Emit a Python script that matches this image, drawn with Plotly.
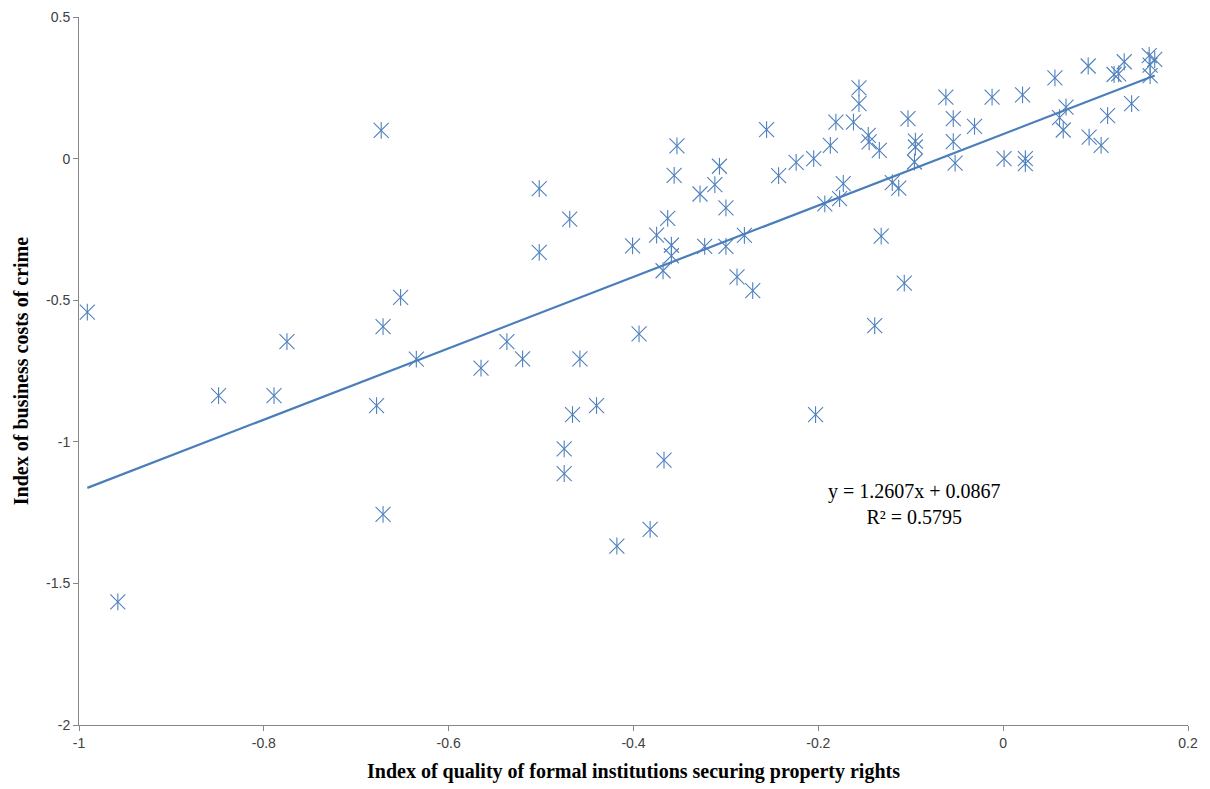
import plotly.graph_objects as go

# Index of quality of formal institutions securing property rights
x_vals = [
    -0.991, -0.958, -0.849, -0.789, -0.775, -0.678, -0.673, -0.671, -0.671, -0.652,
    -0.635, -0.565, -0.537, -0.520, -0.502, -0.502, -0.475, -0.475, -0.469, -0.466,
    -0.458, -0.440, -0.418, -0.401, -0.394, -0.382, -0.375, -0.368, -0.367, -0.363,
    -0.359, -0.359, -0.356, -0.353, -0.328, -0.323, -0.312, -0.307, -0.300, -0.300,
    -0.288, -0.280, -0.271, -0.256, -0.243, -0.224, -0.205, -0.203, -0.193, -0.187,
    -0.181, -0.177, -0.173, -0.162, -0.156, -0.156, -0.146, -0.145, -0.139, -0.134,
    -0.132, -0.120, -0.113, -0.107, -0.103, -0.095, -0.095, -0.096, -0.062, -0.054,
    -0.054, -0.052, -0.031, -0.012, 0.001, 0.021, 0.024, 0.024, 0.056, 0.061,
    0.065, 0.068, 0.092, 0.093, 0.106, 0.113, 0.120, 0.125, 0.131, 0.139,
    0.158, 0.164, 0.159, 0.159,
]

# Index of business costs of crime
y_vals = [
    -0.542, -1.565, -0.837, -0.837, -0.646, -0.872, 0.100, -0.593, -1.256, -0.490,
    -0.708, -0.740, -0.646, -0.707, -0.106, -0.331, -1.025, -1.112, -0.214, -0.904,
    -0.707, -0.872, -1.368, -0.308, -0.619, -1.309, -0.270, -0.396, -1.065, -0.211,
    -0.306, -0.343, -0.059, 0.045, -0.125, -0.310, -0.092, -0.027, -0.174, -0.310,
    -0.418, -0.271, -0.466, 0.102, -0.060, -0.013, 0.000, -0.904, -0.160, 0.047,
    0.129, -0.141, -0.088, 0.129, 0.250, 0.194, 0.082, 0.059, -0.590, 0.029,
    -0.274, -0.085, -0.104, -0.440, 0.141, 0.062, 0.041, -0.012, 0.217, 0.141,
    0.060, -0.016, 0.114, 0.217, 0.000, 0.225, 0.000, -0.018, 0.285, 0.145,
    0.101, 0.182, 0.327, 0.076, 0.047, 0.152, 0.297, 0.299, 0.342, 0.194,
    0.364, 0.350, 0.330, 0.293,
]

# Linear trend line coefficients
slope = 1.2607
intercept = 0.0867
r_squared = 0.5795

x_tick_vals = [-1, -0.8, -0.6, -0.4, -0.2, 0, 0.2]
x_tick_text = ["-1", "-0.8", "-0.6", "-0.4", "-0.2", "0", "0.2"]
y_tick_vals = [-2, -1.5, -1, -0.5, 0, 0.5]
y_tick_text = ["-2", "-1.5", "-1", "-0.5", "0", "0.5"]

x_title = "Index of quality of formal institutions securing property rights"
y_title = "Index of business costs of crime"

blue = "#4F81BD"

fig = go.Figure()

# Star markers: an X plus a vertical stroke
fig.add_trace(go.Scatter(
    x=x_vals, y=y_vals, mode="markers",
    marker=dict(symbol="x-thin-open", size=15, color=blue,
                line=dict(width=1.1, color=blue)),
    hoverinfo="skip", showlegend=False,
))
fig.add_trace(go.Scatter(
    x=x_vals, y=y_vals, mode="markers",
    marker=dict(symbol="line-ns-open", size=12, color=blue,
                line=dict(width=1.1, color=blue)),
    showlegend=False,
))

# Trend line across the data range
x_lo, x_hi = min(x_vals), max(x_vals)
fig.add_trace(go.Scatter(
    x=[x_lo, x_hi],
    y=[slope * x_lo + intercept, slope * x_hi + intercept],
    mode="lines", line=dict(color="#4A7EBB", width=2.2),
    hoverinfo="skip", showlegend=False,
))

fig.add_annotation(
    x=-0.096, y=-1.221, xref="x", yref="y",
    text=f"y = {slope}x + {intercept}<br>R² = {r_squared}",
    showarrow=False, align="center",
    font=dict(family="Liberation Serif", size=20, color="#000000"),
)

axis_common = dict(
    showline=True, linecolor="#868686", linewidth=1,
    ticks="outside", ticklen=5, tickcolor="#868686",
    showgrid=False, zeroline=False, automargin=False,
    tickfont=dict(family="Liberation Sans", size=14, color="#404040"),
)

title_font = dict(family="Liberation Serif", size=20, color="#000000", weight="bold")

fig.update_layout(
    width=1210, height=789,
    margin=dict(l=79, r=22, t=17, b=64),
    paper_bgcolor="white", plot_bgcolor="white",
    xaxis=dict(
        range=[-1, 0.2], tickvals=x_tick_vals, ticktext=x_tick_text,
        title=dict(text=x_title, standoff=14, font=title_font),
        **axis_common,
    ),
    yaxis=dict(
        range=[-2, 0.5], tickvals=y_tick_vals, ticktext=y_tick_text,
        title=dict(text=y_title, standoff=12, font=title_font),
        **axis_common,
    ),
)

fig.write_html("out.html")
